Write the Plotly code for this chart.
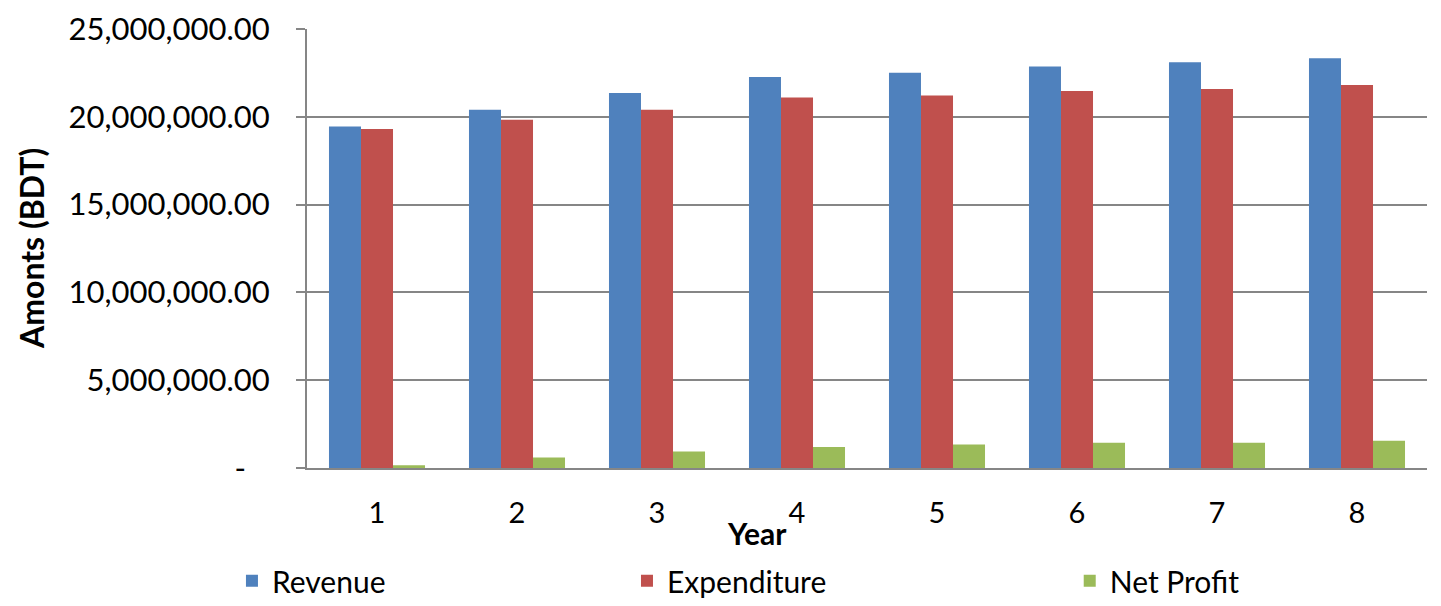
import plotly.graph_objects as go

years = ["1", "2", "3", "4", "5", "6", "7", "8"]
revenue = [19450000, 20400000, 21350000, 22270000, 22510000, 22870000, 23100000, 23330000]
expenditure = [19310000, 19830000, 20400000, 21100000, 21220000, 21470000, 21580000, 21810000]
net_profit = [150000, 600000, 940000, 1200000, 1340000, 1440000, 1440000, 1550000]

y_tickvals = [0, 5000000, 10000000, 15000000, 20000000, 25000000]
y_ticktext = ["-\u00a0\u00a0\u00a0", "5,000,000.00", "10,000,000.00", "15,000,000.00",
              "20,000,000.00", "25,000,000.00"]

FONT = "Lato"

fig = go.Figure()
fig.add_trace(go.Bar(x=years, y=revenue, name="Revenue", marker=dict(color="#4F81BD", line_width=0),
                     legend="legend"))
fig.add_trace(go.Bar(x=years, y=expenditure, name="Expenditure", marker=dict(color="#C0504D", line_width=0),
                     legend="legend2"))
fig.add_trace(go.Bar(x=years, y=net_profit, name="Net Profit", marker=dict(color="#9BBB59", line_width=0),
                     legend="legend3"))

leg_common = dict(orientation="h", yanchor="middle", xanchor="left", y=-0.257,
                  font=dict(family=FONT, size=30, color="#000000"), bgcolor="rgba(0,0,0,0)",
                  itemwidth=30, borderwidth=0)

fig.update_layout(
    width=1441, height=606,
    margin=dict(l=307, r=14, t=29, b=138, autoexpand=False),
    paper_bgcolor="white", plot_bgcolor="white",
    barmode="group", bargap=0.314, bargroupgap=0,
    font=dict(family=FONT, color="#000000"),
    showlegend=True,
    legend=dict(leg_common, x=-0.067),
    legend2=dict(leg_common, x=0.2857),
    legend3=dict(leg_common, x=0.681),
    xaxis=dict(
        showgrid=False, showline=True, linecolor="#868686", linewidth=2,
        ticks="", tickfont=dict(family=FONT, size=29, color="#000000"),
        ticklabelstandoff=18,
    ),
    yaxis=dict(
        range=[0, 25000000], tickvals=y_tickvals, ticktext=y_ticktext,
        showgrid=True, gridcolor="#868686", gridwidth=1.5,
        showline=True, linecolor="#868686", linewidth=2,
        ticks="outside", ticklen=9, tickcolor="#868686", tickwidth=1.5,
        tickfont=dict(family=FONT, size=31, color="#000000"),
        ticklabelstandoff=20,
        zeroline=False,
    ),
    annotations=[
        dict(text="<b>Year</b>", xref="paper", yref="paper", x=0.4018, y=-0.148,
             xanchor="center", yanchor="middle", showarrow=False,
             font=dict(family=FONT, size=30, color="#000000")),
        dict(text="<b>Amonts (BDT)</b>", xref="paper", yref="paper", x=-0.2460, y=0.5,
             xanchor="center", yanchor="middle", showarrow=False, textangle=-90,
             font=dict(family=FONT, size=32, color="#000000")),
    ],
)

fig.write_html("out.html")
